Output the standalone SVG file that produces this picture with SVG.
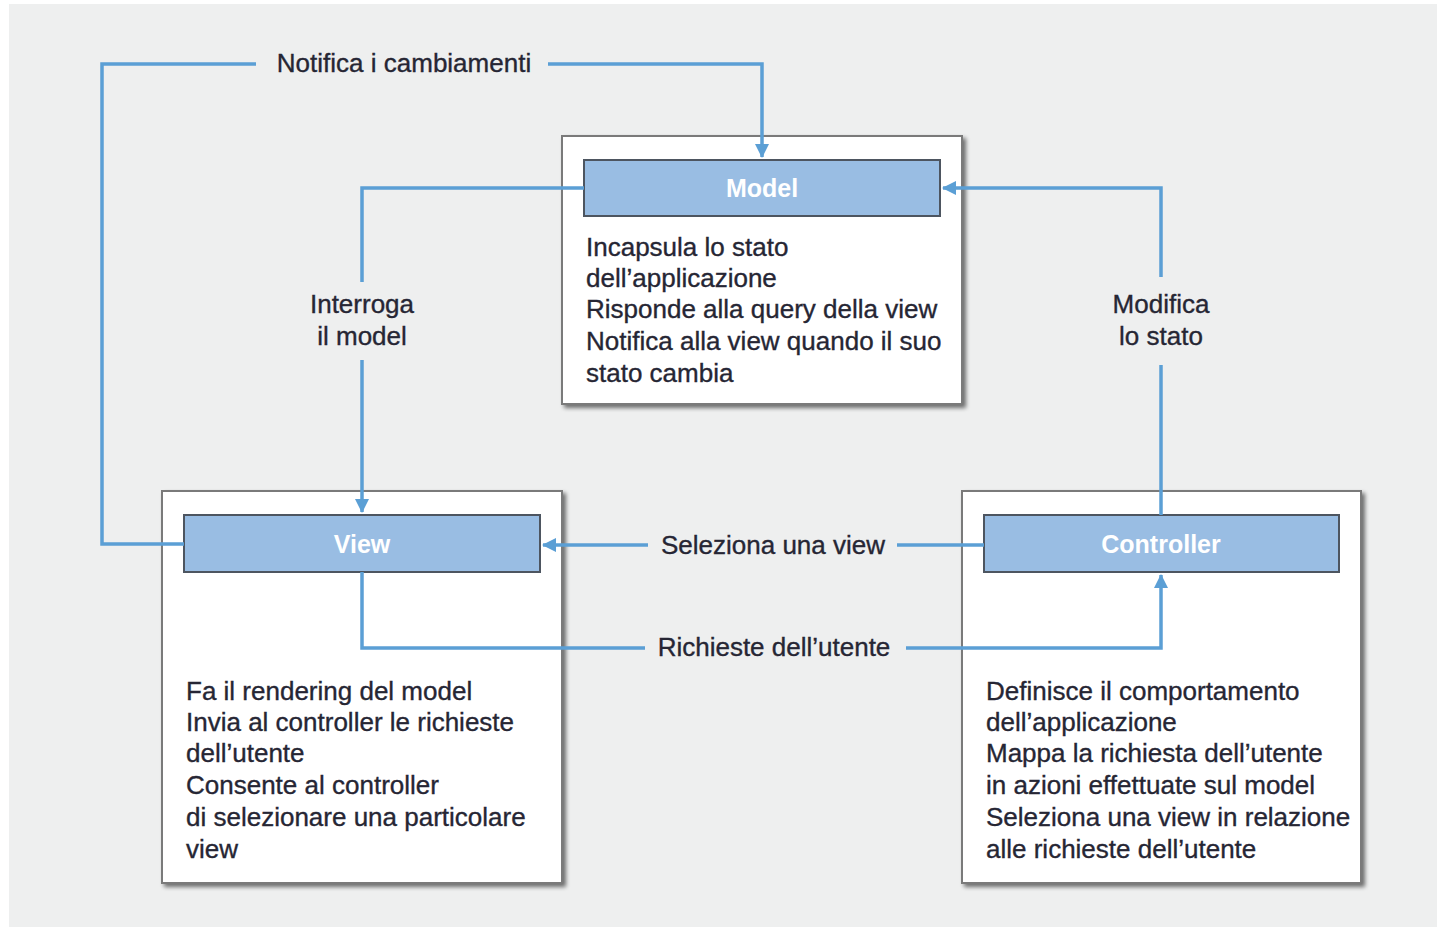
<svg xmlns="http://www.w3.org/2000/svg" width="1437" height="927" viewBox="0 0 1437 927">
<defs>
<style>
.bg{fill:#eeefef}
.box{fill:#ffffff;stroke:#7a7a7a;stroke-width:2}
.hdr{fill:#99bde3;stroke:#4d5560;stroke-width:2}
.ht{font-family:"Liberation Sans",Arial,sans-serif;font-size:25px;font-weight:bold;fill:#ffffff;text-anchor:middle}
.t{font-family:"Liberation Sans",Arial,sans-serif;font-size:26px;fill:#262634;stroke:#262634;stroke-width:0.35}
.lbl{font-family:"Liberation Sans",Arial,sans-serif;font-size:26px;fill:#262634;stroke:#262634;stroke-width:0.35;text-anchor:middle}
.c{fill:none;stroke:#5b9fd5;stroke-width:3.5;stroke-linejoin:miter}
</style>
<filter id="sh" x="-5%" y="-5%" width="110%" height="110%">
<feGaussianBlur in="SourceAlpha" stdDeviation="2"/>
<feOffset dx="3" dy="3" result="b"/>
<feComponentTransfer><feFuncA type="linear" slope="0.55"/></feComponentTransfer>
<feMerge><feMergeNode/><feMergeNode in="SourceGraphic"/></feMerge>
</filter>
<marker id="ar" viewBox="0 0 14 14" refX="13" refY="7" markerWidth="14" markerHeight="14" markerUnits="userSpaceOnUse" orient="auto">
<path d="M0,0 L14,7 L0,14 Z" fill="#5b9fd5"/>
</marker>
</defs>
<rect x="0" y="0" width="1437" height="927" fill="#ffffff"/>
<rect class="bg" x="9" y="4" width="1428" height="923"/>

<g id="model">
<rect class="box" x="562" y="136" width="400" height="268" filter="url(#sh)"/>
<rect class="hdr" x="584" y="160" width="356" height="56"/>
<text class="ht" x="762" y="197">Model</text>
<text class="t" x="586" y="256">Incapsula lo stato</text>
<text class="t" x="586" y="287">dell’applicazione</text>
<text class="t" x="586" y="318">Risponde alla query della view</text>
<text class="t" x="586" y="350">Notifica alla view quando il suo</text>
<text class="t" x="586" y="382">stato cambia</text>
</g>

<g id="view">
<rect class="box" x="162" y="491" width="400" height="392" filter="url(#sh)"/>
<rect class="hdr" x="184" y="515" width="356" height="57"/>
<text class="ht" x="362" y="553">View</text>
<text class="t" x="186" y="700">Fa il rendering del model</text>
<text class="t" x="186" y="731">Invia al controller le richieste</text>
<text class="t" x="186" y="762">dell’utente</text>
<text class="t" x="186" y="794">Consente al controller</text>
<text class="t" x="186" y="826">di selezionare una particolare</text>
<text class="t" x="186" y="858">view</text>
</g>

<g id="controller">
<rect class="box" x="962" y="491" width="399" height="392" filter="url(#sh)"/>
<rect class="hdr" x="984" y="515" width="355" height="57"/>
<text class="ht" x="1161" y="553">Controller</text>
<text class="t" x="986" y="700">Definisce il comportamento</text>
<text class="t" x="986" y="731">dell’applicazione</text>
<text class="t" x="986" y="762">Mappa la richiesta dell’utente</text>
<text class="t" x="986" y="794">in azioni effettuate sul model</text>
<text class="t" x="986" y="826">Seleziona una view in relazione</text>
<text class="t" x="986" y="858">alle richieste dell’utente</text>
</g>

<g id="connectors">
<path class="c" d="M184,544 H102 V64 H256"/>
<path class="c" d="M548,64 H762 V157" marker-end="url(#ar)"/>
<text class="lbl" x="404" y="72">Notifica i cambiamenti</text>

<path class="c" d="M584,188 H362 V282"/>
<path class="c" d="M362,360 V512" marker-end="url(#ar)"/>
<text class="lbl" x="362" y="313">Interroga</text>
<text class="lbl" x="362" y="345">il model</text>

<path class="c" d="M1161,515 V365"/>
<path class="c" d="M1161,277 V188 H943" marker-end="url(#ar)"/>
<text class="lbl" x="1161" y="313">Modifica</text>
<text class="lbl" x="1161" y="345">lo stato</text>

<path class="c" d="M984,545 H897"/>
<path class="c" d="M648,545 H543" marker-end="url(#ar)"/>
<text class="lbl" x="773" y="554">Seleziona una view</text>

<path class="c" d="M362,572 V648 H645"/>
<path class="c" d="M906,648 H1161 V575" marker-end="url(#ar)"/>
<text class="lbl" x="774" y="656">Richieste dell’utente</text>
</g>
</svg>
